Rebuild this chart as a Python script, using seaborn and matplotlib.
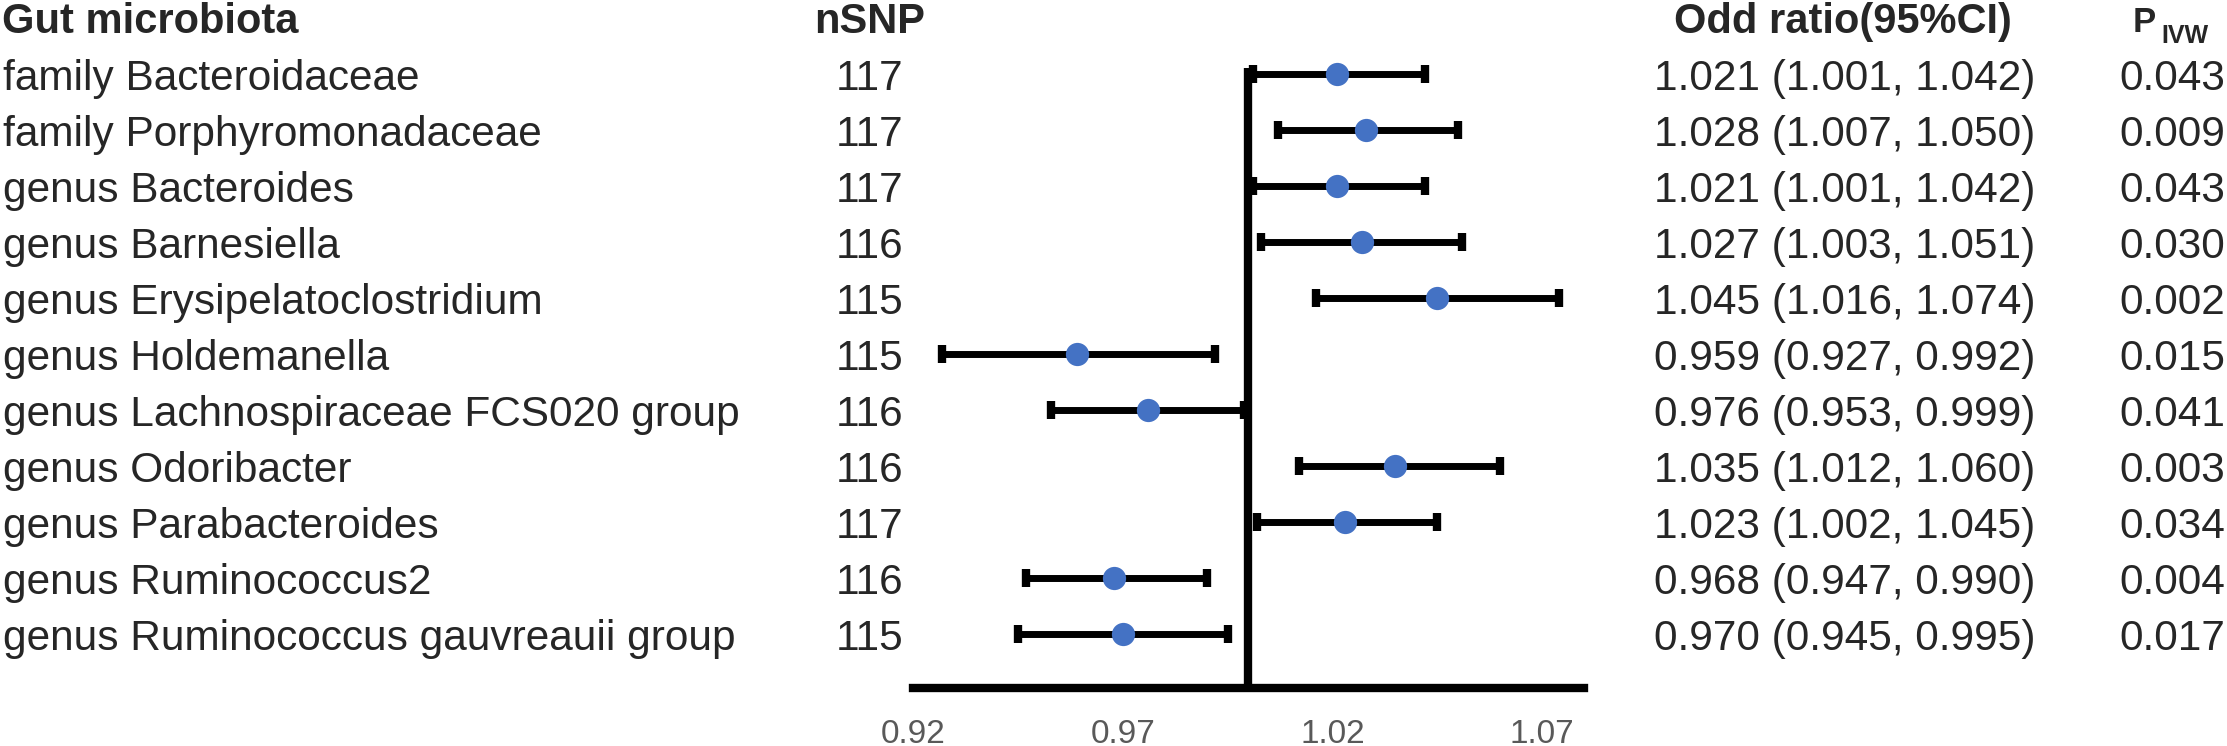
import numpy as np
import pandas as pd
import seaborn as sns
import matplotlib.pyplot as plt
import matplotlib.transforms as mtransforms

# values
names = ["family Bacteroidaceae", "family Porphyromonadaceae", "genus Bacteroides",
         "genus Barnesiella", "genus Erysipelatoclostridium", "genus Holdemanella",
         "genus Lachnospiraceae FCS020 group", "genus Odoribacter",
         "genus Parabacteroides", "genus Ruminococcus2",
         "genus Ruminococcus gauvreauii group"]
nsnp = [117, 117, 117, 116, 115, 115, 116, 116, 117, 116, 115]
odds = [1.021, 1.028, 1.021, 1.027, 1.045, 0.959, 0.976, 1.035, 1.023, 0.968, 0.970]
lower = [1.001, 1.007, 1.001, 1.003, 1.016, 0.927, 0.953, 1.012, 1.002, 0.947, 0.945]
upper = [1.042, 1.050, 1.042, 1.051, 1.074, 0.992, 0.999, 1.060, 1.045, 0.990, 0.995]
pvals = ["0.043", "0.009", "0.043", "0.030", "0.002", "0.015",
         "0.041", "0.003", "0.034", "0.004", "0.017"]
xticks = [0.92, 0.97, 1.02, 1.07]

df = pd.DataFrame({"name": names, "nsnp": nsnp, "or": odds, "lo": lower, "hi": upper, "p": pvals})
df["row"] = np.arange(len(df))

sns.set_theme(style="white")
plt.rcParams["font.family"] = ["Liberation Sans", "DejaVu Sans"]

W, H = 2227, 746
fig = plt.figure(figsize=(W / 100, H / 100), dpi=100)

# forest panel sits between the nSNP and OR columns, baseline at y=688px
ax_left, ax_right, base = 913, 1584, 688
ax = fig.add_axes([ax_left / W, (H - base) / H, (ax_right - ax_left) / W, base / H])

row0, step = 74, 56  # pixel centre of first row, row spacing
ax.set_ylim((base - row0) / step, -row0 / step)
ax.set_xlim(0.92, 1.08)

ax.vlines(1.0, (base - row0) / step, -0.11, color="black", lw=6, zorder=1)
ax.errorbar(df["or"], df["row"], xerr=[df["or"] - df["lo"], df["hi"] - df["or"]],
            fmt="none", ecolor="black", elinewidth=5, capsize=6.5, capthick=6, zorder=2)
sns.scatterplot(data=df, x="or", y="row", color="#4472C4", s=280, linewidth=0,
                ax=ax, zorder=3, legend=False)

sns.despine(ax=ax, left=True)
ax.spines["bottom"].set_linewidth(6)
ax.spines["bottom"].set_color("black")
ax.set_yticks([])
ax.set_xticks(xticks)
ax.set_xticklabels([f"{t:.2f}" for t in xticks])
ax.tick_params(axis="x", length=0, pad=22, labelsize=24, labelcolor="#595959")
ax.set_xlabel("")
ax.set_ylabel("")
ax.grid(False)

# table columns: x in figure pixels, y in row units
trans = mtransforms.blended_transform_factory(
    mtransforms.Affine2D().scale(1.0 / W, 1.0) + fig.transFigure, ax.transData)

fs = 30.5
hdr_y = -0.73
kw = dict(transform=trans, va="baseline", clip_on=False)
ax.text(2, hdr_y, "Gut microbiota", ha="left", fontweight="bold", fontsize=30, **kw)
ax.text(870, hdr_y, "nSNP", ha="center", fontweight="bold", fontsize=30, **kw)
ax.text(1843, hdr_y, "Odd ratio(95%CI)", ha="center", fontweight="bold", fontsize=30, **kw)
ax.text(2133, -0.75, "P", ha="left", fontweight="bold", fontsize=25, **kw)
ax.text(2161, -0.55, "IVW", ha="left", fontweight="bold", fontsize=18, **kw)

for _, r in df.iterrows():
    y = r["row"] + 0.28
    ax.text(3, y, r["name"], ha="left", fontsize=fs, **kw)
    ax.text(870, y, str(r["nsnp"]), ha="center", fontsize=fs, **kw)
    ax.text(1845, y, f"{r['or']:.3f} ({r['lo']:.3f}, {r['hi']:.3f})", ha="center",
            fontsize=fs, **kw)
    ax.text(2225, y, r["p"], ha="right", fontsize=fs, **kw)

fig.savefig("out.png", dpi=100, facecolor="white")
